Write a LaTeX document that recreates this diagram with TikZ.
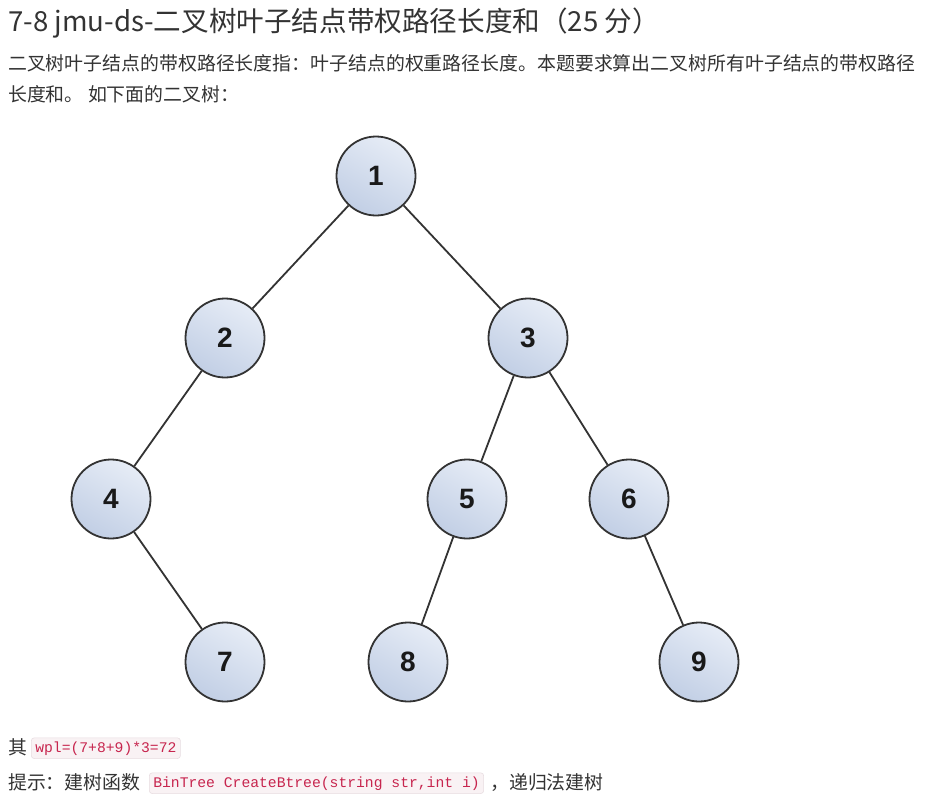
\documentclass[tikz,border=0pt]{standalone}
\usepackage{fontspec}
\setmainfont{Noto Sans CJK SC}
\newfontfamily\nodefont{Liberation Sans}
\setmonofont{Liberation Mono}
\definecolor{nodeA}{HTML}{E6ECF6}
\definecolor{nodeB}{HTML}{C2CFE5}
\definecolor{edgec}{HTML}{333333}
\definecolor{codefg}{HTML}{C7254E}
\definecolor{codebg}{HTML}{F9F2F4}
\definecolor{codebd}{HTML}{E8DDE1}
\definecolor{txt}{HTML}{333333}
\begin{document}
\begin{tikzpicture}[x=1pt,y=-1pt,
  tnode/.style={circle, draw=edgec, line width=1.8pt, minimum size=79pt, inner sep=0pt,
    top color=nodeA, bottom color=nodeB, shading angle=-30,
    font=\nodefont\bfseries\fontsize{28}{30}\selectfont, text=black!90},
  tedge/.style={draw=edgec, line width=1.8pt},
  txtline/.style={anchor=base west, inner sep=0pt, text=txt},
  code/.style={anchor=base west, fill=codebg, draw=codebd, rounded corners=3pt, text=codefg,
    inner xsep=4pt, inner ysep=3.5pt, font=\ttfamily\fontsize{14.7}{16}\selectfont, line width=0.6pt}
]
\useasboundingbox (0,0) rectangle (935,804);
\fill[white] (0,0) rectangle (935,804);

\node[txtline, font=\fontsize{27.6}{30}\selectfont] (title) at (8,31) {7-8 jmu-ds-二叉树叶子结点带权路径长度和（25 分）};
\node[txtline, font=\fontsize{18.9}{22}\selectfont] (p1) at (8,70) {二叉树叶子结点的带权路径长度指：叶子结点的权重路径长度。本题要求算出二叉树所有叶子结点的带权路径};
\node[txtline, font=\fontsize{18.9}{22}\selectfont] (p2) at (8,101) {长度和。 如下面的二叉树：};

\node[tnode] (n1) at (376,176) {1};
\node[tnode] (n2) at (225,338) {2};
\node[tnode] (n3) at (528,338) {3};
\node[tnode] (n4) at (111,499) {4};
\node[tnode] (n5) at (467,499) {5};
\node[tnode] (n6) at (629,499) {6};
\node[tnode] (n7) at (225,662) {7};
\node[tnode] (n8) at (408,662) {8};
\node[tnode] (n9) at (699,662) {9};

\draw[tedge] (n1) -- (n2);
\draw[tedge] (n1) -- (n3);
\draw[tedge] (n2) -- (n4);
\draw[tedge] (n4) -- (n7);
\draw[tedge] (n3) -- (n5);
\draw[tedge] (n3) -- (n6);
\draw[tedge] (n5) -- (n8);
\draw[tedge] (n6) -- (n9);

\node[txtline, font=\fontsize{18.9}{22}\selectfont] (q) at (8,754) {其};
\node[code] (c1) at (31,752) {wpl=(7+8+9)*3=72};
\node[txtline, font=\fontsize{18.9}{22}\selectfont] (h1) at (8,789) {提示：建树函数};
\node[code] (c2) at (149,787) {BinTree CreateBtree(string str,int i)};
\node[txtline, font=\fontsize{18.9}{22}\selectfont] (h2) at (490,789) {，递归法建树};
\end{tikzpicture}
\end{document}
